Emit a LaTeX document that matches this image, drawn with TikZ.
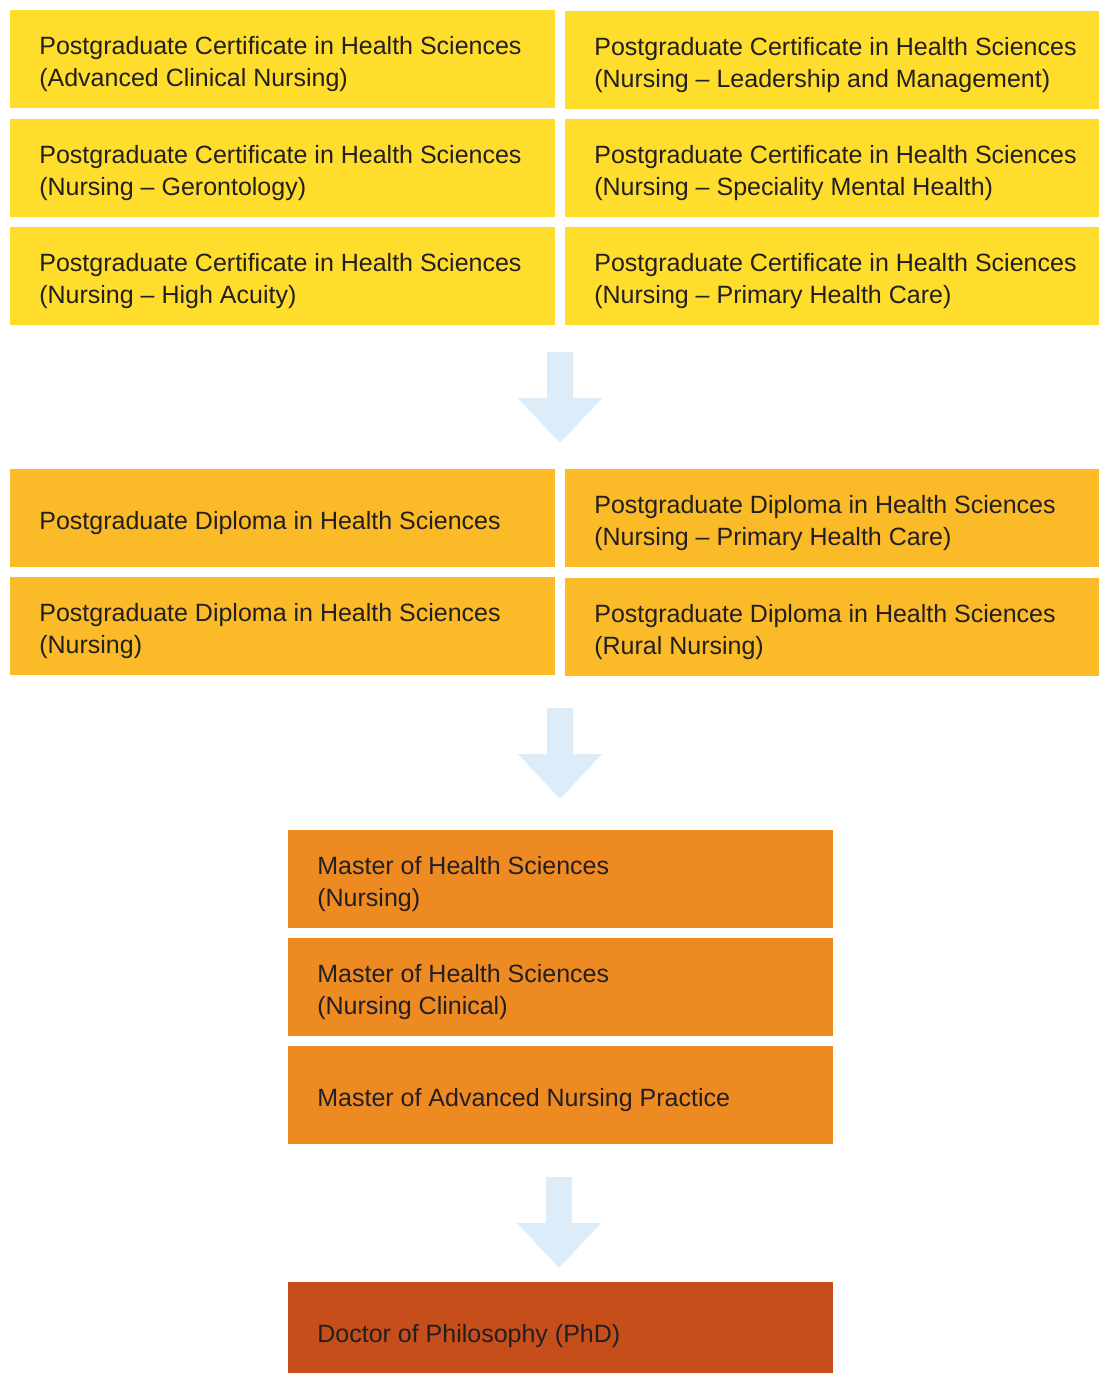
\documentclass[tikz,border=0pt]{standalone}
\usepackage{fontspec}
\setmainfont{Liberation Sans}
\usepackage{tikz}
\usetikzlibrary{positioning,calc}
\usepackage{xcolor}

\definecolor{certyellow}{HTML}{FFDD2D}
\definecolor{diplyellow}{HTML}{FBBA27}
\definecolor{masterorange}{HTML}{EE8A22}
\definecolor{phdrust}{HTML}{C54E1B}
\definecolor{arrowblue}{HTML}{DCEDF9}
\definecolor{inktext}{HTML}{231F20}

\tikzset{
	prog/.style={rectangle, inner sep=0pt, anchor=north west,
		minimum height=1.96cm, minimum width=10.9cm},
	cert/.style={prog, fill=certyellow},
	dipl/.style={prog, fill=diplyellow},
	mast/.style={prog, fill=masterorange},
	phd/.style={prog, fill=phdrust},
	narrow/.style={minimum width=10.68cm},
	progtext/.style={anchor=west, align=left, inner sep=0pt, text=inktext,
		font=\fontsize{14.23}{18.2}\selectfont},
	flowarrow/.pic={
		\fill[arrowblue] (-13,0) -- (13,0) -- (13,46) -- (42,46)
		-- (0,91) -- (-42,46) -- (-13,46) -- cycle;
	}
}

\newcommand{\progtext}[2]{%
	\node[progtext] (#1-t) at ([xshift=0.58cm, yshift=-0.1cm]#1.west) {#2};}

\begin{document}
\begin{tikzpicture}[x=0.02cm, y=-0.02cm]
		
		\useasboundingbox (0,0) rectangle (1099,1373);
		\clip (0,0) rectangle (1099,1373);
		
		% Certificates
		\node[cert] (cert-acn) at (10,10) {};
		\node[cert, narrow] (cert-lm) at (565,11) {};
		\node[cert] (cert-ger) at (10,119) {};
		\node[cert, narrow] (cert-smh) at (565,119) {};
		\node[cert] (cert-ha) at (10,227) {};
		\node[cert, narrow] (cert-phc) at (565,227) {};
		
		\progtext{cert-acn}{Postgraduate Certificate in Health Sciences\\(Advanced Clinical Nursing)}
		\progtext{cert-lm}{Postgraduate Certificate in Health Sciences\\(Nursing -- Leadership and Management)}
		\progtext{cert-ger}{Postgraduate Certificate in Health Sciences\\(Nursing -- Gerontology)}
		\progtext{cert-smh}{Postgraduate Certificate in Health Sciences\\(Nursing -- Speciality Mental Health)}
		\progtext{cert-ha}{Postgraduate Certificate in Health Sciences\\(Nursing -- High Acuity)}
		\progtext{cert-phc}{Postgraduate Certificate in Health Sciences\\(Nursing -- Primary Health Care)}
		
		\pic at (560,352) {flowarrow};
		
		% Diplomas
		\node[dipl] (dipl-hs) at (10,469) {};
		\node[dipl, narrow] (dipl-phc) at (565,469) {};
		\node[dipl] (dipl-nur) at (10,577) {};
		\node[dipl, narrow] (dipl-rn) at (565,578) {};
		
		\progtext{dipl-hs}{Postgraduate Diploma in Health Sciences}
		\progtext{dipl-phc}{Postgraduate Diploma in Health Sciences\\(Nursing -- Primary Health Care)}
		\progtext{dipl-nur}{Postgraduate Diploma in Health Sciences\\(Nursing)}
		\progtext{dipl-rn}{Postgraduate Diploma in Health Sciences\\(Rural Nursing)}
		
		\pic at (560,708) {flowarrow};
		
		% Masters
		\node[mast] (mast-nur) at (288,830) {};
		\node[mast] (mast-cli) at (288,938) {};
		\node[mast] (mast-anp) at (288,1046) {};
		
		\progtext{mast-nur}{Master of Health Sciences\\(Nursing)}
		\progtext{mast-cli}{Master of Health Sciences\\(Nursing Clinical)}
		\progtext{mast-anp}{Master of Advanced Nursing Practice}
		
		\pic at (559,1177) {flowarrow};
		
		% Doctorate
		\node[phd] (phd) at (288,1282) {};
		\progtext{phd}{Doctor of Philosophy (PhD)}
		
	\end{tikzpicture}
\end{document}
